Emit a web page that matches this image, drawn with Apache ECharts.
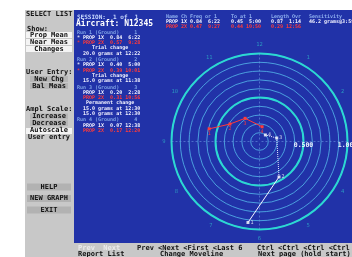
<!DOCTYPE html>
<html>
<head>
<meta charset="utf-8">
<script src="https://cdn.jsdelivr.net/npm/echarts@6/dist/echarts.min.js"></script>
<style>
  html, body { margin: 0; padding: 0; background: #fff; }
  #chart { width: 352px; height: 257px; }
</style>
</head>
<body>
<div id="chart"></div>
<script>
// balance vectors per run: amplitude and clock phase (hours)
const runs = ['1', '2', '3', '4']
const prop1xAmp = [0.93, 0.46, 0.20, 0.10]
const prop1xClock = [6.27, 5.04, 2.62, 1.4]
const prop2xAmp = [0.59, 0.39, 0.31, 0.17]
const prop2xClock = [9.47, 10.02, 10.94, 0.33]

// left menu
const menuShow = ['Prop Mean', 'Near Meas', 'Changes']
const menuEntry = ['New Chg', 'Bal Meas']
const menuScale = ['Increase', 'Decrease', 'Autoscale', 'User entry']
const menuActions = ['HELP', 'NEW GRAPH', 'EXIT']

// session log, kind: h = run header, w = 1X row, r = 2X row, c = change note
const sessionLog = [
  ['Run 1 (Ground)     1', 'h'],
  ['* PROP 1X  0.84  6:22', 'w'],
  ['* PROP 2X  0.57  9:28', 'r'],
  ['     Trial change', 'c'],
  ['  20.0 grams at 12:22', 'c'],
  ['Run 2 (Ground)     2', 'h'],
  ['* PROP 1X  0.40  5:00', 'w'],
  ['* PROP 2X  0.39 10:01', 'r'],
  ['     Trial change', 'c'],
  ['  15.0 grams at 11:38', 'c'],
  ['Run 3 (Ground)     3', 'h'],
  ['  PROP 1X  0.20  2:28', 'w'],
  ['  PROP 2X  0.31 10:56', 'r'],
  ['   Permanent change', 'c'],
  ['  15.0 grams at 12:30', 'c'],
  ['  15.0 grams at 12:30', 'c'],
  ['Run 4 (Ground)     4', 'h'],
  ['  PROP 1X  0.07 12:38', 'w'],
  ['  PROP 2X  0.17 12:20', 'r']
]

// summary table
const tableHead = ['Name Ch', 'Freq or 1', 'To at 1', 'Length Ovr', 'Sensitivity']
const table1x = ['PROP 1X', '0.84  6:22', '0.45  5:00', '0.87  1:14', '46.2 grams@3:59']
const table2x = ['PROP 2X', '0.47  9:27', '0.44 10:50', '0.29 12:56', '']

const keysRow1 = ['Prev  Next', 'Prev <Next <First <Last 6', 'Ctrl <Ctrl <Ctrl <Ctrl <Ctrl']
const keysRow2 = ['Report List', 'Change Moveline', 'Next page (hold start)']

const BLUE = '#2132a8'
const GRAY = '#c8c8c8'
const MONO = '"DejaVu Sans Mono", monospace'
const CX = 259.5, CY = 141.5

const toAxis = h => (h + 9) % 12
const vec = (amp, clk) => amp.map((a, i) => [a, toAxis(clk[i])])

const graphic = []
function rect(x, y, w, h, fill) {
  graphic.push({ type: 'rect', silent: true, shape: { x, y, width: w, height: h }, style: { fill } })
}
function text(x, y, s, size, fill, align, bold) {
  graphic.push({
    type: 'text', silent: true, x, y,
    style: {
      text: s, fill, font: (bold === false ? '' : 'bold ') + size + 'px ' + MONO,
      textAlign: align || 'left', align: align || 'left',
      textVerticalAlign: 'middle', verticalAlign: 'middle'
    }
  })
}

// frame
rect(0, 0, 352, 10, '#ffffff')
rect(0, 0, 25, 257, '#ffffff')
rect(25, 10, 49, 247, GRAY)
rect(74, 243, 278, 14, GRAY)

// left menu
text(26, 14, 'SELECT LIST', 7, '#111')
text(27, 29, 'Show:', 7, '#111')
menuShow.forEach((s, i) => {
  rect(26, 32 + i * 7, 46, 6, '#f4f4f4')
  text(49, 35 + i * 7, s, 7, '#111', 'center')
})
text(26, 72, 'User Entry:', 7, '#111')
menuEntry.forEach((s, i) => {
  rect(30, 76 + i * 7, 38, 6, '#b6b6b6')
  text(49, 79 + i * 7, s, 7, '#111', 'center')
})
text(26, 109, 'Ampl Scale:', 7, '#111')
menuScale.forEach((s, i) => {
  if (s === 'Autoscale') rect(26, 128, 46, 6, '#f4f4f4')
  else if (i < 2) rect(30, 113.5 + i * 6.5, 38, 6, '#b6b6b6')
  text(49, 116.5 + i * 6.8, s, 7, '#111', 'center')
})
menuActions.forEach((s, i) => {
  rect(27, 183.5 + i * 11.5, 44, 7, '#b2b2b2')
  text(49, 187 + i * 11.5, s, 7, '#111', 'center')
})

// session panel
text(77, 17, 'SESSION:  1 of  1', 6, '#c8d8ff')
text(76, 23.5, 'Aircraft: N12345', 8, '#ffffff')
const logColor = { h: '#7fa2e6', w: '#f2f2ff', r: '#ff3a3a', c: '#f2f2ff' }
let yy = 32.5
sessionLog.forEach((row, i) => {
  if (row[1] === 'h' && i > 0) yy += 1.5
  text(77, yy, row[0], 5, logColor[row[1]])
  yy += 5.2
})

// summary table
const colX = [166, 190, 231, 271, 309]
tableHead.forEach((s, i) => text(colX[i], 17, s, 5, '#8fb0f0'))
table1x.forEach((s, i) => text(colX[i], 21.8, s, 5, '#f2f2ff'))
table2x.forEach((s, i) => text(colX[i], 26.6, s, 5, '#ff3a3a'))

// key bar
const keyX = [78, 137, 257]
const keyX2 = [78, 160, 258]
keysRow1.forEach((s, i) => text(keyX[i], 248.5, s, 7, i === 0 ? '#ececec' : '#111'))
keysRow2.forEach((s, i) => text(keyX2[i], 254.5, s, 7, '#111'))

const chart = echarts.init(document.getElementById('chart'))
chart.setOption({
  backgroundColor: BLUE,
  animation: false,
  graphic: graphic,
  polar: [
    { center: [CX, CY], radius: 88 },
    { center: [CX, CY], radius: 88 }
  ],
  angleAxis: [
    {
      polarIndex: 0, type: 'value', min: 0, max: 12, interval: 1, startAngle: 0, clockwise: true,
      axisLine: { show: false }, axisTick: { show: false }, splitLine: { show: false },
      axisLabel: {
        margin: 6, color: 'rgba(47,181,200,0.75)', fontSize: 5.5, fontFamily: MONO,
        formatter: v => v >= 12 ? '' : String((v + 3) % 12 || 12)
      }
    },
    {
      polarIndex: 1, type: 'value', min: 0, max: 12, interval: 3, startAngle: 0, clockwise: true,
      axisLine: { show: false }, axisTick: { show: false }, axisLabel: { show: false },
      splitLine: { show: true, lineStyle: { color: 'rgba(120,170,235,0.5)', width: 1, type: [2, 2] } }
    }
  ],
  radiusAxis: [
    {
      polarIndex: 0, min: 0, max: 1, interval: 0.1,
      axisLine: { show: false }, axisTick: { show: false }, axisLabel: { show: false },
      splitLine: { lineStyle: { color: 'rgba(85,185,235,0.8)', width: 1 } }
    },
    {
      polarIndex: 1, min: 0, max: 1, interval: 0.5,
      axisLine: { show: false }, axisTick: { show: false },
      axisLabel: {
        margin: 0, color: '#eef4ff', fontSize: 6.5, fontWeight: 'bold', fontFamily: MONO,
        verticalAlign: 'top', formatter: v => v ? v.toFixed(3) : ''
      },
      splitLine: { lineStyle: { color: '#2cd8d2', width: 2 } }
    }
  ],
  series: [
    {
      type: 'line', coordinateSystem: 'polar', polarIndex: 0, symbol: 'none',
      data: vec(prop1xAmp.slice(0, 2), prop1xClock.slice(0, 2)),
      lineStyle: { color: '#f4f4ff', width: 1 }
    },
    {
      type: 'line', coordinateSystem: 'polar', polarIndex: 0, symbol: 'none',
      data: vec(prop1xAmp.slice(1), prop1xClock.slice(1)),
      lineStyle: { color: '#e8e8ff', width: 1, type: 'dotted' }
    },
    {
      type: 'scatter', coordinateSystem: 'polar', polarIndex: 0,
      symbol: 'rect', symbolSize: 3,
      data: vec(prop1xAmp, prop1xClock),
      itemStyle: { color: '#ffffff' },
      label: {
        show: true, position: 'right', distance: 1, color: '#ffffff', fontSize: 5, fontFamily: MONO,
        formatter: p => runs[p.dataIndex]
      }
    },
    {
      type: 'line', coordinateSystem: 'polar', polarIndex: 0,
      symbol: 'rect', symbolSize: 3,
      data: vec(prop2xAmp, prop2xClock),
      lineStyle: { color: '#ff3a3a', width: 1 },
      itemStyle: { color: '#ff3a3a' },
      label: {
        show: true, position: 'bottom', distance: 1, color: '#ff3a3a', fontSize: 5, fontFamily: MONO,
        formatter: p => runs[p.dataIndex]
      }
    }
  ]
})
</script>
</body>
</html>
